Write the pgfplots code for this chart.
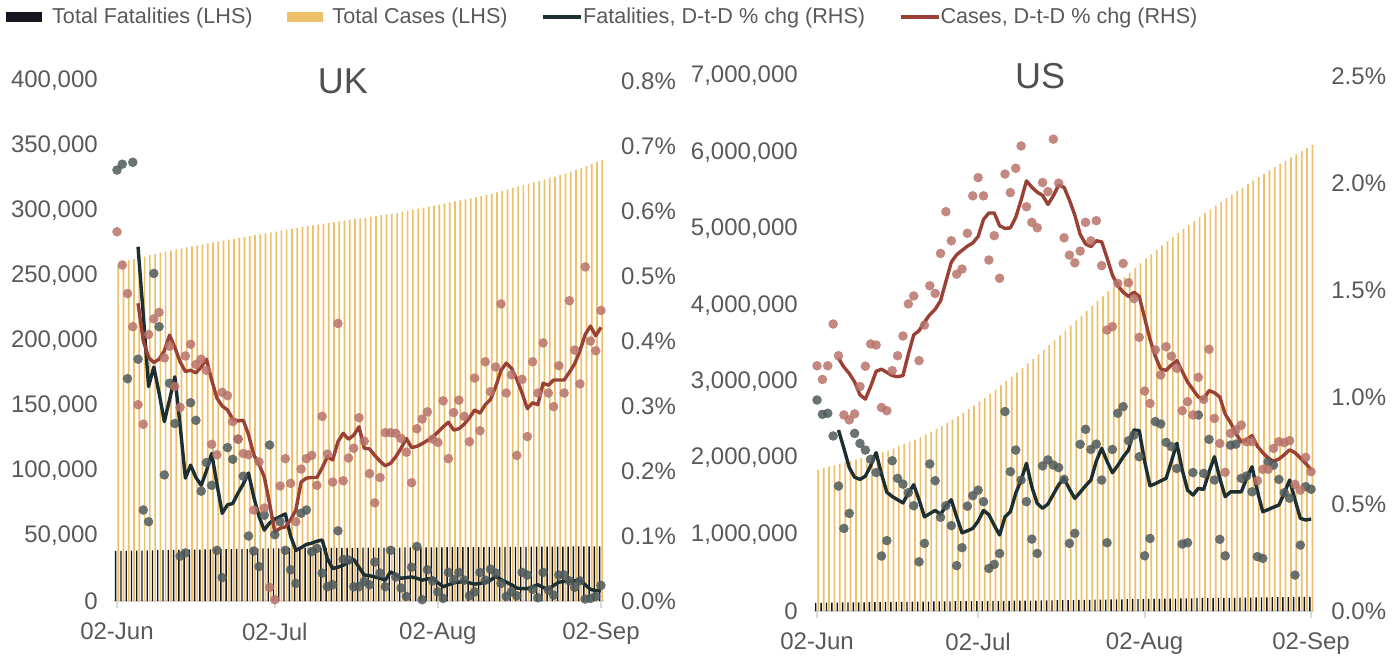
\documentclass[border=0pt]{standalone}
\usepackage{pgfplots}
\pgfplotsset{compat=1.18}
\usepackage{pgfplotstable}
\usepackage{fontspec}
\setmainfont{Liberation Sans}
\definecolor{textgray}{HTML}{595959}
\definecolor{axisgray}{HTML}{D9D9D9}
\definecolor{fatbar}{HTML}{17141F}
\definecolor{casebar}{HTML}{EDC06A}
\definecolor{fatline}{HTML}{1E2F32}
\definecolor{caseline}{HTML}{9B4034}
\definecolor{fatdot}{HTML}{4F5A5C}
\definecolor{casedot}{HTML}{B8736A}

% d fat cas (thousands) fl cl fd cd (percent)
\pgfplotstableread{
d fat cas fl cl fd cd
0 38.5 258 nan nan .663 .568
1 38.6 261 nan nan .672 .517
2 38.6 262 nan nan .342 .473
3 38.7 263 nan nan .675 .422
4 38.8 264 .545 .458 .372 .302
5 38.8 265 .44 .400 .140 .272
6 38.9 266 .33 .375 .122 .410
7 39.0 267 .36 .367 .504 .434
8 39.1 268 .32 .372 .422 .444
9 39.1 268.8 .276 .385 .194 .374
10 39.2 269.6 .31 .409 .335 .392
11 39.3 270.4 .345 .39 .273 .33
12 39.3 271.2 .27 .368 .069 .298
13 39.4 272 .189 .353 .074 .377
14 39.5 272.8 .209 .355 .305 .395
15 39.5 273.6 .19 .351 .278 .364
16 39.6 274.4 .178 .36 .169 .372
17 39.7 275.1 .20 .372 .213 .355
18 39.7 275.8 .227 .34 .178 .241
19 39.8 276.5 .18 .312 .078 .225
20 39.9 277.2 .135 .30 .036 .321
21 39.9 277.9 .148 .294 .236 .316
22 40.0 278.6 .150 .280 .218 .276
23 40.1 279.3 .166 .277 .249 .249
24 40.1 280 .18 .278 .192 .227
25 40.2 280.7 .197 .256 .100 .225
26 40.3 281.4 .16 .225 .077 .140
27 40.3 282.1 .13 .21 .053 .214
28 40.4 282.8 .109 .191 .132 .143
29 40.5 283.5 .120 .15 .240 .021
30 40.5 284.2 .126 .106 .102 .002
31 40.5 284.9 .130 .112 .122 .177
32 40.6 285.6 .134 .114 .078 .219
33 40.6 286.3 .10 .125 .048 .181
34 40.6 287 .078 .140 .027 .122
35 40.6 287.7 .082 .183 .135 .203
36 40.7 288.4 .087 .189 .140 .219
37 40.7 289 .089 .190 .076 .224
38 40.7 289.6 .092 .190 .081 .178
39 40.7 290.2 .094 .205 .043 .284
40 40.8 290.8 .065 .222 .022 .226
41 40.8 291.4 .050 .217 .025 .183
42 40.8 292 .052 .245 .108 .427
43 40.9 292.6 .055 .258 .064 .185
44 40.9 293.2 .060 .249 .063 .220
45 40.9 293.8 .064 .255 .022 .235
46 40.9 294.4 .052 .268 .022 .282
47 41.0 295 .040 .235 .030 .246
48 41.0 295.6 .039 .234 .025 .196
49 41.0 296.2 .037 .224 .060 .151
50 41.0 296.8 .035 .215 .043 .190
51 41.1 297.4 .032 .208 .022 .259
52 41.1 298 .045 .212 .078 .259
53 41.1 298.6 .040 .222 .037 .258
54 41.1 299.4 .035 .235 .020 .250
55 41.2 300.2 .036 .250 .007 .229
56 41.2 301 .037 .236 .052 .182
57 41.2 301.8 .035 .238 .084 .265
58 41.2 302.6 .032 .242 .002 .280
59 41.3 303.4 .034 .247 .048 .291
60 41.3 304.2 .035 .252 .031 .249
61 41.3 305 .028 .260 .014 .244
62 41.3 305.8 .022 .268 .004 .308
63 41.4 306.6 .025 .275 .044 .219
64 41.4 307.4 .028 .263 .033 .290
65 41.4 308.2 .029 .265 .044 .309
66 41.4 309 .030 .272 .032 .284
67 41.5 309.8 .028 .282 .008 .245
68 41.5 310.6 .026 .294 .014 .343
69 41.5 311.4 .027 .289 .044 .262
70 41.5 312.2 .029 .302 .032 .368
71 41.6 313.3 .032 .310 .049 .322
72 41.6 314.4 .038 .330 .043 .360
73 41.6 315.5 .033 .355 .027 .457
74 41.6 316.6 .029 .366 .007 .320
75 41.7 317.7 .025 .358 .014 .348
76 41.7 318.8 .020 .341 .008 .224
77 41.7 319.9 .019 .32 .044 .341
78 41.7 321 .019 .296 .040 .253
79 41.8 322.1 .022 .305 .018 .368
80 41.8 323.2 .025 .302 .005 .320
81 41.8 324.3 .021 .335 .044 .397
82 41.8 325.4 .018 .332 .017 .320
83 41.9 326.5 .024 .340 .009 .299
84 41.9 327.6 .029 .340 .040 .362
85 41.9 328.7 .030 .340 .040 .320
86 41.9 330.2 .030 .352 .031 .462
87 42.0 331.7 .031 .365 .021 .386
88 42.0 333.2 .032 .385 .031 .334
89 42.0 334.7 .025 .410 .003 .514
90 42.0 336.2 .018 .423 .004 .40
91 42.0 337.7 .016 .408 .007 .385
92 42.1 339.2 .016 .421 .024 .447
}\uk

\pgfplotstableread{
d fat cas fl cl fd cd
0 107 1850 nan nan .986 1.146
1 108 1869 nan nan .919 1.082
2 109 1888 nan nan .924 1.146
3 110 1907 nan nan .818 1.341
4 110.5 1926 .846 1.181 .584 1.193
5 111.5 1945 .76 1.14 .386 .916
6 112 1964 .67 1.11 .456 .893
7 113 1983 .625 1.07 .830 .921
8 114 2002 .615 1.01 .783 1.049
9 114.5 2021 .63 .99 .752 1.144
10 115.5 2040 .68 1.05 .709 1.248
11 116 2059 .74 1.12 .647 1.243
12 117 2078 .64 1.13 .257 .951
13 118 2103 .555 1.115 .329 .936
14 118.5 2129 .535 1.10 .702 1.123
15 119.5 2156 .52 1.095 .620 1.193
16 120 2184 .505 1.10 .593 1.285
17 121 2213 .55 1.20 .553 1.435
18 122 2244 .59 1.29 .492 1.472
19 122.5 2276 .52 1.31 .230 1.170
20 123.5 2310 .44 1.35 .316 1.336
21 124 2346 .455 1.385 .687 1.520
22 125 2383 .47 1.41 .609 1.484
23 126 2422 .452 1.45 .438 1.671
24 126.5 2462 .49 1.54 .492 1.866
25 127.5 2504 .52 1.63 .399 1.730
26 128 2548 .44 1.665 .212 1.574
27 129 2593 .365 1.685 .296 1.598
28 129.5 2640 .375 1.705 .490 1.765
29 130 2688 .386 1.72 .539 1.940
30 130.5 2738 .42 1.75 .565 2.025
31 131 2790 .47 1.83 .511 1.940
32 131.5 2843 .45 1.86 .199 1.640
33 132 2897 .40 1.86 .218 1.754
34 132.5 2952 .355 1.80 .269 1.555
35 133 3008 .44 1.788 .932 2.042
36 134 3065 .464 1.79 .651 1.955
37 134.5 3122 .55 1.84 .752 2.069
38 135 3180 .612 1.92 .612 2.173
39 136 3239 .69 2.01 .511 1.889
40 137 3299 .58 1.98 .336 1.816
41 137.5 3359 .503 1.957 .269 1.791
42 138 3420 .48 1.942 .678 2.002
43 139 3482 .50 1.90 .706 1.960
44 140 3544 .545 1.94 .682 2.205
45 141 3607 .59 1.99 .670 1.999
46 142 3671 .62 1.98 .615 1.744
47 143 3735 .57 1.92 .316 1.663
48 144 3799 .526 1.85 .363 1.627
49 145 3863 .555 1.76 .779 1.682
50 146 3927 .585 1.715 .849 1.816
51 147 3991 .612 1.703 .755 1.730
52 148 4055 .70 1.73 .780 1.824
53 149 4118 .76 1.725 .612 1.614
54 150 4181 .70 1.65 .319 1.313
55 151 4244 .646 1.57 .755 1.329
56 152 4306 .68 1.52 .924 1.531
57 153 4368 .72 1.49 .955 1.624
58 154 4429 .752 1.47 .796 1.534
59 155 4490 .846 1.49 .822 1.46
60 156 4550 .843 1.47 .721 1.279
61 157 4609 .70 1.37 .258 1.028
62 158 4667 .585 1.27 .339 .970
63 159 4724 .595 1.19 .885 1.220
64 160 4781 .608 1.13 .874 1.103
65 161 4837 .62 1.125 .788 1.235
66 162 4892 .70 1.15 .768 1.191
67 163 4946 .784 1.17 .666 1.134
68 164 4999 .66 1.12 .313 .936
69 165 5052 .565 1.07 .319 .978
70 166 5104 .542 1.035 .647 .916
71 167 5155 .573 1.00 .916 1.092
72 168 5205 .568 .99 .643 .989
73 169 5255 .65 1.03 .802 1.223
74 170 5304 .721 1.02 .612 .900
75 171 5353 .62 1.00 .335 .783
76 172 5401 .534 .92 .258 .648
77 173 5448 .557 .88 .775 .830
78 173.5 5495 .557 .83 .780 .846
79 174.5 5541 .557 .79 .620 .869
80 175.5 5587 .62 .80 .631 .791
81 176.5 5632 .674 .82 .557 .791
82 177.5 5677 .56 .77 .254 .609
83 178.5 5721 .464 .74 .246 .662
84 179.5 5765 .474 .715 .697 .662
85 180.5 5808 .485 .70 .682 .760
86 181.5 5851 .495 .71 .615 .791
87 182 5893 .55 .73 .553 .787
88 183 5935 .612 .753 .527 .796
89 184 5976 .52 .74 .168 .592
90 185 6017 .433 .715 .308 .565
91 185.5 6058 .425 .69 .581 .718
92 186 6098 .43 .66 .569 .651
}\us

\pgfplotsset{
  base/.style={scale only axis, anchor=south west, xmin=-0.6, xmax=92.6,
    ticklabel style={font=\fontsize{12}{14}\selectfont, text=textgray},
    ytick style={draw=none}},
  lhs/.style={base, axis x line*=bottom, axis y line*=left,
    x axis line style={draw=axisgray, line width=1pt, -},
    y axis line style={draw=none},
    xtick={0,30,61,92}, xticklabels={02-Jun,02-Jul,02-Aug,02-Sep},
    xtick style={draw=axisgray, line width=1pt},
    x tick label style={yshift=-4pt},
    tick align=outside, major tick length=3.5pt,
    yticklabel style={xshift=-1pt}},
  rhs/.style={base, axis y line*=right, axis x line=none,
    y axis line style={draw=none}, xtick=\empty, clip=false,
    yticklabel style={xshift=5pt}},
  cbar/.style={ybar, bar width=0.85pt, bar shift=0.65pt, fill=casebar, draw=none, forget plot},
  fbar/.style={ybar, bar width=0.7pt, bar shift=-0.65pt, fill=fatbar, draw=none, forget plot},
  fdot/.style={only marks, color=fatdot, mark=*, mark size=2.4pt,
    mark options={fill=fatdot, draw opacity=0, fill opacity=0.85}},
  cdot/.style={only marks, color=casedot, mark=*, mark size=2.4pt,
    mark options={fill=casedot, draw opacity=0, fill opacity=0.85}},
  fln/.style={no marks, line width=1.7pt, color=fatline, line join=round},
  cln/.style={no marks, line width=1.7pt, color=caseline, line join=round},
}

\begin{document}
\begin{tikzpicture}
\path[use as bounding box] (0,0) rectangle (697.5pt,327.5pt);

% ---------------- UK ----------------
\begin{axis}[lhs, at={(56.92pt,27pt)}, width=245.15pt, height=260pt,
  ymin=0, ymax=400, ytick={0,50,100,150,200,250,300,350,400},
  yticklabels={0,{50,000},{100,000},{150,000},{200,000},{250,000},{300,000},{350,000},{400,000}},
  legend columns=4,
  legend style={draw=none, fill=none, inner sep=0pt, at={(-0.220,1.123)}, anchor=west,
    font=\fontsize{10.8}{12}\selectfont, text=textgray,
    nodes={inner sep=0pt},
    /tikz/every odd column/.append style={column sep=0pt},
    /tikz/every even column/.append style={column sep=17pt}}]
\addplot[cbar] table[x=d,y=cas]{\uk};
\addplot[fbar] table[x=d,y=fat]{\uk};
\addlegendimage{legend image code/.code={\fill[fatbar] (0pt,-2.4pt) rectangle (17.5pt,2.4pt); \path (22.5pt,0pt);}}
\addlegendentry{Total Fatalities (LHS)}
\addlegendimage{legend image code/.code={\fill[casebar] (0pt,-2.4pt) rectangle (17.5pt,2.4pt); \path (22.5pt,0pt);}}
\addlegendentry{Total Cases (LHS)}
\addlegendimage{legend image code/.code={\draw[fatline, line width=1.7pt] (0pt,0pt) -- (19pt,0pt);}}
\addlegendentry{Fatalities, D-t-D \% chg (RHS)}
\addlegendimage{legend image code/.code={\draw[caseline, line width=1.7pt] (0pt,0pt) -- (19pt,0pt);}}
\addlegendentry{Cases, D-t-D \% chg (RHS)}
\end{axis}

\begin{axis}[rhs, at={(56.92pt,27pt)}, width=245.15pt, height=260pt,
  ymin=0, ymax=0.8, ytick={0,0.1,0.2,0.3,0.4,0.5,0.6,0.7,0.8},
  yticklabels={0.0\%,0.1\%,0.2\%,0.3\%,0.4\%,0.5\%,0.6\%,0.7\%,0.8\%}]
\addplot[fdot] table[x=d,y=fd]{\uk};
\addplot[cdot] table[x=d,y=cd]{\uk};
\addplot[fln] table[x=d,y=fl]{\uk};
\addplot[cln] table[x=d,y=cl]{\uk};
\node[font=\fontsize{18}{20}\selectfont, text=textgray!90!black] at (axis description cs:0.467,1.0) {UK};
\end{axis}

% ---------------- US ----------------
\begin{axis}[lhs, at={(406.9pt,22pt)}, width=250.25pt, height=267.5pt,
  ymin=0, ymax=7000, ytick={0,1000,2000,3000,4000,5000,6000,7000},
  yticklabels={0,{1,000,000},{2,000,000},{3,000,000},{4,000,000},{5,000,000},{6,000,000},{7,000,000}}]
\addplot[cbar] table[x=d,y=cas]{\us};
\addplot[fbar] table[x=d,y=fat]{\us};
\end{axis}

\begin{axis}[rhs, at={(406.9pt,22pt)}, width=250.25pt, height=267.5pt,
  ymin=0, ymax=2.5, ytick={0,0.5,1,1.5,2,2.5},
  yticklabels={0.0\%,0.5\%,1.0\%,1.5\%,2.0\%,2.5\%}]
\addplot[fdot] table[x=d,y=fd]{\us};
\addplot[cdot] table[x=d,y=cd]{\us};
\addplot[fln] table[x=d,y=fl]{\us};
\addplot[cln] table[x=d,y=cl]{\us};
\node[font=\fontsize{18}{20}\selectfont, text=textgray!90!black] at (axis description cs:0.452,1.0) {US};
\end{axis}
\end{tikzpicture}
\end{document}
